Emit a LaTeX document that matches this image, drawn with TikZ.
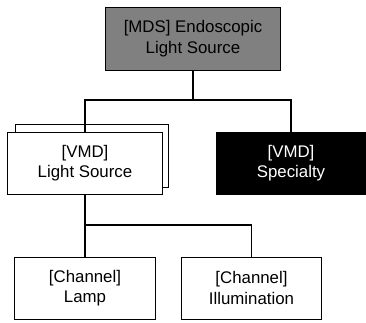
\documentclass[tikz,border=0pt]{standalone}
\usepackage{fontspec}
\setmainfont{Liberation Sans}
\usetikzlibrary{positioning}

\tikzset{
  unit/.style={draw, line width=1bp, fill=white, align=center, inner sep=0pt,
    minimum height=62bp, font=\fontsize{16.9}{20.5}\selectfont},
  wire/.style={line width=1.3bp}
}

\begin{document}
\begin{tikzpicture}[x=1bp,y=-1bp]
            \useasboundingbox (0,0) rectangle (366,323);

            \node[unit, fill=black!50, minimum width=174bp, minimum height=63bp] (mds) at (193,38.5) {[MDS] Endoscopic\\Light Source}; % MDS
            \node[unit, minimum width=152bp, minimum height=63bp] (lsback) at (92,155.5) {}; % stacked copy
            \node[unit, minimum width=154bp] (ls) at (85,163) {[VMD]\\Light Source}; % VMD
            \node[unit, fill=black, text=white, minimum width=148bp] (spec) at (291,163) {[VMD]\\Specialty}; % VMD
            \node[unit, minimum width=140bp] (lamp) at (85,288) {[Channel]\\Lamp}; % Channel
            \node[unit, minimum width=139bp] (illum) at (251.5,288) {[Channel]\\Illumination}; % Channel

            \coordinate (top split) at (193,100);
            \coordinate (low split) at (85,225);

            \draw[wire] (mds) -- (top split) -| (ls.north);
            \draw[wire] (top split) -| (spec.north);
            \draw[wire] (ls) -- (low split) -- (lamp);
            \draw[wire] (low split) -| (illum.north);

        \end{tikzpicture}
\end{document}
